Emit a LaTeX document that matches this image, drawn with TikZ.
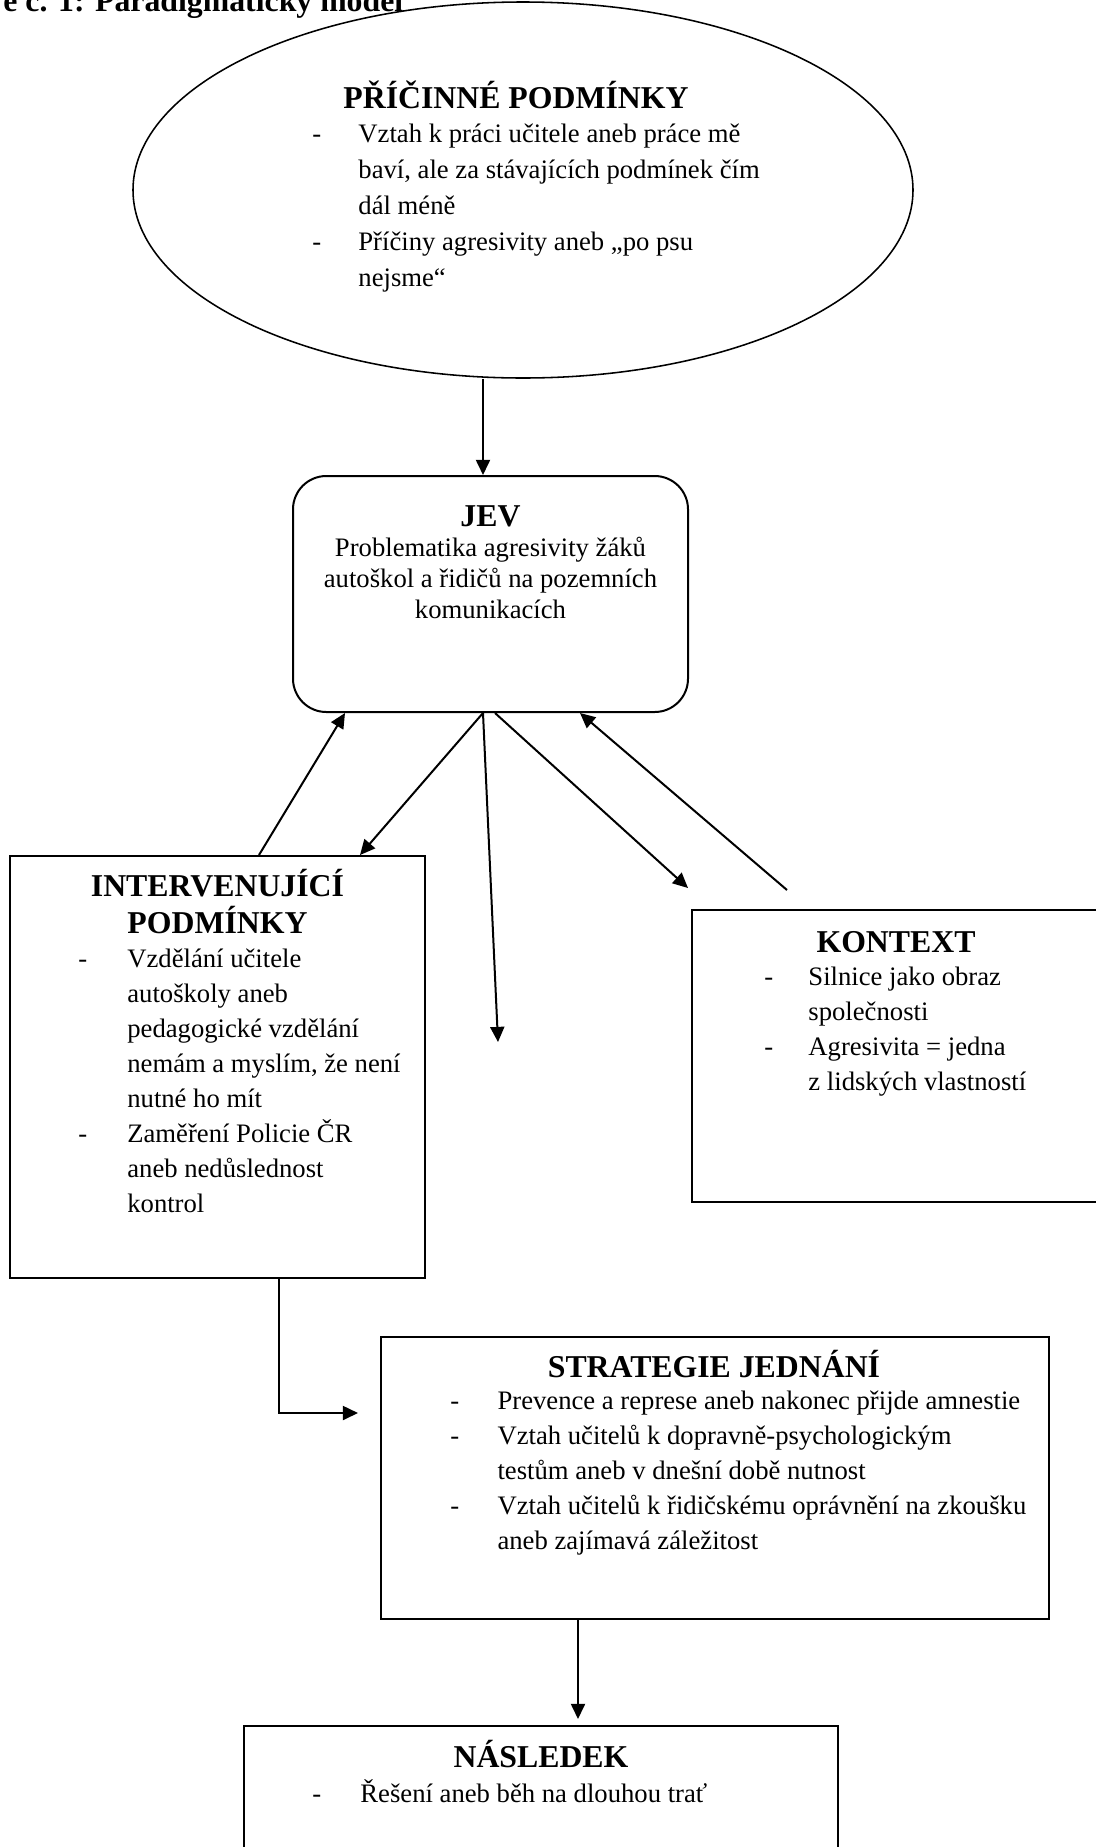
\documentclass[tikz,border=0pt]{standalone}
\usepackage{fontspec}
\setmainfont{Liberation Serif}
\usetikzlibrary{arrows.meta}
\usetikzlibrary{calc}
\usetikzlibrary{shapes}

\newcommand{\hdfont}{\fontsize{14.3pt}{15pt}\selectfont\bfseries}
\newcommand{\txfont}{\fontsize{12pt}{15.8pt}\selectfont}
\newcommand{\dashlist}[2]{\begin{tabular}[t]{@{}p{#1}@{}l@{}}#2\end{tabular}}
\newcommand{\midlines}[1]{\begin{tabular}[t]{@{}c@{}}#1\end{tabular}}

\begin{document}
\begin{tikzpicture}[x=0.45pt,y=-0.45pt,
    box/.style={draw,line width=0.9pt,inner sep=0pt},
    hd/.style={font=\hdfont,inner sep=0pt},
    tx/.style={font=\txfont,inner sep=0pt},
    arr/.style={-{Triangle[length=6.8pt,width=6.3pt]},line width=0.9pt}]
          \useasboundingbox (0,0) rectangle (1096,1847);
          \clip (0,0) rectangle (1096,1847);
          \node[hd,anchor=base west] (ttl) at (3,11) {e č. 1: Paradigmatický model};
          % shapes
          \node[box,ellipse,line width=0.7pt,minimum width=351pt,minimum height=169.2pt] (prc) at (523,190) {};
          \node[box,rounded corners=15pt,minimum width=177.75pt,minimum height=106.2pt] (jev) at (490.5,594) {};
          \node[box,minimum width=186.75pt,minimum height=189.9pt] (int) at (217.5,1067) {};
          \node[box,minimum width=183.6pt,minimum height=131.4pt] (ktx) at (896,1056) {};
          \node[box,minimum width=300.6pt,minimum height=126.9pt] (str) at (715,1478) {};
          \node[box,minimum width=267.3pt,minimum height=78.3pt] (nsl) at (541,1813) {};
          % texts
          \node[hd,anchor=base] (prc-hd) at (516,108) {PŘÍČINNÉ PODMÍNKY};
          \node[tx,anchor=base west,font=\fontsize{12pt}{16.2pt}\selectfont] (prc-tx) at (312,142) {\dashlist{20.7pt}{- & Vztah k práci učitele aneb práce mě\\ & baví, ale za stávajících podmínek čím\\ & dál méně\\ - & Příčiny agresivity aneb „po psu\\ & nejsme“}};
          \node[hd,anchor=base] (jev-hd) at (490.5,526) {JEV};
          \node[tx,anchor=base,font=\fontsize{12pt}{14pt}\selectfont] (jev-tx) at (490.5,556) {\midlines{Problematika agresivity žáků\\autoškol a řidičů na pozemních\\komunikacích}};
          \node[hd,anchor=base] (int-hd) at (217.5,896) {\midlines{INTERVENUJÍCÍ\\PODMÍNKY}};
          \node[tx,anchor=base west] (int-tx) at (78,967) {\dashlist{22pt}{- & Vzdělání učitele\\ & autoškoly aneb\\ & pedagogické vzdělání\\ & nemám a myslím, že není\\ & nutné ho mít\\ - & Zaměření Policie ČR\\ & aneb nedůslednost\\ & kontrol}};
          \node[hd,anchor=base] (ktx-hd) at (896,952) {KONTEXT};
          \node[tx,anchor=base west] (ktx-tx) at (764,985) {\dashlist{19.8pt}{- & Silnice jako obraz\\ & společnosti\\ - & Agresivita = jedna\\ & z lidských vlastností}};
          \node[hd,anchor=base] (str-hd) at (714,1377) {STRATEGIE JEDNÁNÍ};
          \node[tx,anchor=base west] (str-tx) at (450,1409) {\dashlist{21.2pt}{- & Prevence a represe aneb nakonec přijde amnestie\\ - & Vztah učitelů k dopravně-psychologickým\\ & testům aneb v dnešní době nutnost\\ - & Vztah učitelů k řidičskému oprávnění na zkoušku\\ & aneb zajímavá záležitost}};
          \node[hd,anchor=base] (nsl-hd) at (541,1767) {NÁSLEDEK};
          \node[tx,anchor=base west] (nsl-tx) at (312,1802) {\dashlist{21.6pt}{- & Řešení aneb běh na dlouhou trať}};
          % connectors
          \coordinate (dn) at (498,1042);
          \coordinate (kin) at (688,888);
          \coordinate (kout) at (787,890);
          \coordinate (sin) at (358,1413);
          \draw[arr] ($(prc.south)+(-40,0)$) -- ($(jev.north)+(-7.5,0)$);
          \draw[arr] ($(int.north)+(41.5,0)$) -- ($(jev.south)+(-145.5,0)$);
          \draw[arr] ($(jev.south)+(-7.5,0)$) -- ($(int.north)+(142.5,0)$);
          \draw[arr] ($(jev.south)+(-7.5,0)$) -- (dn);
          \draw[arr] ($(jev.south)+(4.5,0)$) -- (kin);
          \draw[arr] (kout) -- ($(jev.south)+(89.5,0)$);
          \draw[arr] ($(int.south)+(61.5,0)$) |- (sin);
          \draw[arr] ($(str.south)+(-137,0)$) -- ($(nsl.north)+(37,-6)$);
        \end{tikzpicture}
\end{document}
